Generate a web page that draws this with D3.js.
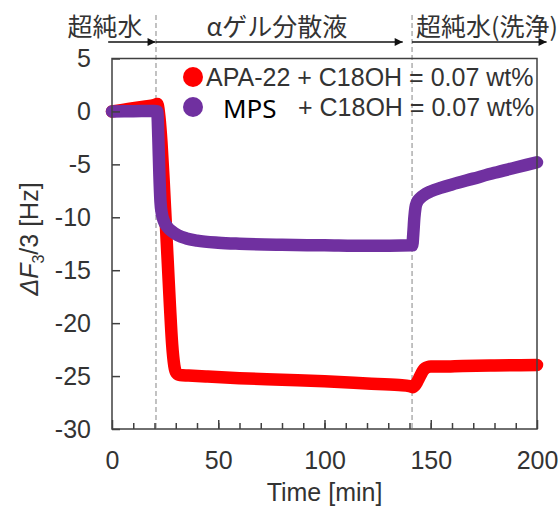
<!DOCTYPE html>
<html>
<head>
<meta charset="utf-8">
<script src="https://cdn.jsdelivr.net/npm/d3@7"></script>
<style>
  html, body { margin: 0; padding: 0; background: #fff; }
  svg { display: block; }
</style>
</head>
<body>
<svg id="chart" width="560" height="509"></svg>
<script>
// QCM frequency shift (3rd overtone) during adsorption and rinsing
const timeApa = [0, 5, 10, 15, 20, 21.3, 22.3, 23.3, 24.3, 25.3, 26.3, 27.3, 28.3, 29.3, 30.3, 32, 36, 45, 60, 80, 100, 120, 135, 140, 141.5, 142.5, 143.5, 144.5, 145.5, 146.5, 147.5, 148.5, 150, 155, 165, 180, 200];
const apaValues = [0, 0.15, 0.3, 0.45, 0.6, 0.7, -0.5, -3, -6.5, -10.5, -14.5, -18.5, -22, -24, -24.7, -24.9, -24.95, -25.05, -25.2, -25.35, -25.5, -25.7, -25.85, -25.95, -26.05, -25.9, -25.6, -25.2, -24.8, -24.45, -24.25, -24.15, -24.1, -24.1, -24.05, -24.0, -23.95];

const timeMps = [0, 10, 20, 21.3, 21.8, 22.3, 22.8, 23.5, 24.5, 26, 28, 31, 35, 40, 50, 60, 80, 100, 120, 141.3, 141.8, 142.3, 142.8, 143.5, 145, 147.5, 150, 155, 160, 170, 180, 190, 200];
const mpsValues = [0, 0.02, 0.05, 0, -2.5, -6, -8.5, -9.7, -10.4, -10.9, -11.3, -11.7, -12.0, -12.2, -12.4, -12.5, -12.6, -12.65, -12.7, -12.65, -11.5, -10, -9.1, -8.6, -8.2, -7.8, -7.55, -7.2, -6.9, -6.35, -5.8, -5.3, -4.8];

const xTicks = [0, 50, 100, 150, 200];
const yTicks = [-30, -25, -20, -15, -10, -5, 0, 5];

// Solution phases (min): label, arrow start, arrow end, label centre
const phaseLabels = ["超純水", "αゲル分散液", "超純水(洗浄)"];
const phaseStart = [-1.8, 20.7, 141.2];
const phaseEnd = [20.5, 136.8, 204.5];
const phaseLabelAt = [-3.3, 77.6, 176.5];
const switchTimes = [20.7, 141.2];

const legendNames = ["APA-22", "MPS"];
const legendSuffix = "+ C18OH = 0.07 wt%";
const colors = ["#ff0000", "#7030a0"];

const svg = d3.select("#chart");
const axisColor = "#404040";
const textColor = "#333333";
const plainNumber = d => String(d);

const x = d3.scaleLinear().domain([0, 200]).range([112, 537]);
const y = d3.scaleLinear().domain([-30, 5]).range([429, 58.5]);

// dashed lines marking solution switches
svg.selectAll("line.switch").data(switchTimes).enter().append("line")
  .attr("class", "switch")
  .attr("x1", d => x(d)).attr("x2", d => x(d))
  .attr("y1", 15).attr("y2", y(-30))
  .attr("stroke", "#9a9a9a").attr("stroke-width", 1.2)
  .attr("stroke-dasharray", "5,3");

// traces
const line = d3.line().curve(d3.curveMonotoneX).x(d => x(d[0])).y(d => y(d[1]));
const series = [d3.zip(timeApa, apaValues), d3.zip(timeMps, mpsValues)];
series.forEach((s, i) => {
  svg.append("path").datum(s)
    .attr("d", line)
    .attr("fill", "none")
    .attr("stroke", colors[i])
    .attr("stroke-width", 12.5)
    .attr("stroke-linecap", "round")
    .attr("stroke-linejoin", "round");
});

// frame
svg.append("rect")
  .attr("x", x(0)).attr("y", y(5))
  .attr("width", x(200) - x(0)).attr("height", y(-30) - y(5))
  .attr("fill", "none").attr("stroke", axisColor).attr("stroke-width", 1.5);

// x axis: minor ticks every 10 min, major every 50 min
const xMinor = svg.append("g").attr("transform", `translate(0,${y(-30)})`)
  .call(d3.axisBottom(x).tickValues(d3.range(10, 200, 10)).tickSize(-6).tickFormat(""));
const xMajor = svg.append("g").attr("transform", `translate(0,${y(-30)})`)
  .call(d3.axisBottom(x).tickValues(xTicks).tickSize(-9).tickPadding(22.5).tickFormat(plainNumber));
[xMinor, xMajor].forEach(g => {
  g.select(".domain").remove();
  g.selectAll(".tick line").attr("stroke", axisColor).attr("stroke-width", 1.5);
});

const yAxis = svg.append("g").attr("transform", `translate(${x(0)},0)`)
  .call(d3.axisLeft(y).tickValues(yTicks).tickSize(-8).tickPadding(21).tickFormat(plainNumber));
yAxis.select(".domain").remove();
yAxis.selectAll(".tick line").attr("stroke", axisColor).attr("stroke-width", 1.5);

svg.selectAll(".tick text")
  .attr("font-family", "'Liberation Sans', Arial, sans-serif")
  .attr("font-size", 25).attr("fill", textColor);

// axis titles
svg.append("text")
  .attr("x", (x(0) + x(200)) / 2).attr("y", 501)
  .attr("text-anchor", "middle")
  .attr("font-family", "'Liberation Sans', Arial, sans-serif")
  .attr("font-size", 25).attr("fill", textColor)
  .text("Time [min]");

const yTitle = svg.append("text")
  .attr("transform", "translate(38,239) rotate(-90)")
  .attr("text-anchor", "middle")
  .attr("font-family", "'Liberation Sans', Arial, sans-serif")
  .attr("font-size", 25).attr("fill", textColor);
yTitle.append("tspan").attr("font-style", "italic").text("ΔF");
yTitle.append("tspan").attr("font-size", 16).attr("dy", 6).text("3");
yTitle.append("tspan").attr("dy", -6).text("/3 [Hz]");

// solution phase arrows
const defs = svg.append("defs");
defs.append("marker").attr("id", "arrowhead")
  .attr("viewBox", "0 0 10 10").attr("refX", 10).attr("refY", 5)
  .attr("markerWidth", 10).attr("markerHeight", 8)
  .attr("markerUnits", "userSpaceOnUse").attr("orient", "auto")
  .append("path").attr("d", "M0,0 L10,5 L0,10 Z").attr("fill", "#111");

phaseLabels.forEach((lab, i) => {
  svg.append("line")
    .attr("x1", x(phaseStart[i])).attr("x2", x(phaseEnd[i]))
    .attr("y1", 42).attr("y2", 42)
    .attr("stroke", "#111").attr("stroke-width", 1.6)
    .attr("marker-end", "url(#arrowhead)");
  svg.append("text")
    .attr("x", x(phaseLabelAt[i])).attr("y", 25)
    .attr("text-anchor", "middle")
    .attr("dominant-baseline", "central")
    .attr("font-family", "'Noto Sans CJK JP', sans-serif")
    .attr("font-size", 25).attr("fill", textColor)
    .text(lab);
});

// legend
const legendRowY = [77, 107];
legendNames.forEach((name, i) => {
  svg.append("circle")
    .attr("cx", 193).attr("cy", legendRowY[i]).attr("r", 10)
    .attr("fill", colors[i]);
  if (i === 0) {
    svg.append("text")
      .attr("x", 206).attr("y", legendRowY[i])
      .attr("dominant-baseline", "central")
      .attr("font-family", "'Liberation Sans', Arial, sans-serif")
      .attr("font-size", 25).attr("fill", textColor)
      .text(name + " " + legendSuffix);
  } else {
    svg.append("text")
      .attr("x", 223).attr("y", legendRowY[i] + 1)
      .attr("dominant-baseline", "central")
      .attr("font-family", "'Noto Sans', sans-serif")
      .attr("font-size", 26).attr("fill", "#000")
      .text(name);
    svg.append("text")
      .attr("x", 298).attr("y", legendRowY[i])
      .attr("dominant-baseline", "central")
      .attr("font-family", "'Liberation Sans', Arial, sans-serif")
      .attr("font-size", 25).attr("fill", textColor)
      .text(legendSuffix);
  }
});
</script>
</body>
</html>
